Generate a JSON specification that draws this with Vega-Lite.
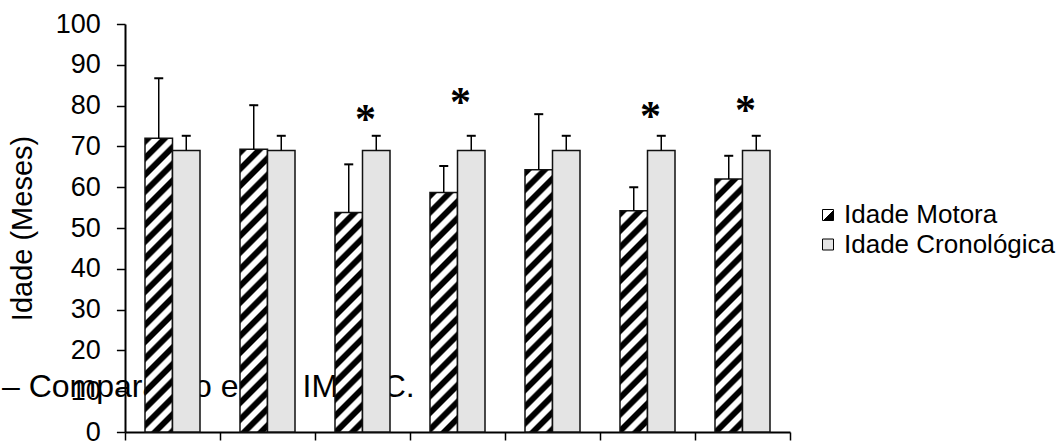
{
"$schema": "https://vega.github.io/schema/vega-lite/v6.json",
"width": 665,
"height": 408,
"autosize": {"type": "none"},
"padding": {"left": 125, "top": 24, "right": 272, "bottom": 15},
"background": "white",
"config": {
  "view": {"stroke": null},
  "font": "Liberation Sans",
  "axis": {"domainColor": "black", "domainWidth": 2, "tickColor": "black", "tickWidth": 1.5, "grid": false, "labelFont": "Liberation Sans", "labelColor": "black", "titleFont": "Liberation Sans", "titleColor": "black", "titleFontWeight": "normal"},
  "axisX": {"labels": false, "tickBand": "extent", "tickSize": 8},
  "axisY": {"labelFontSize": 27, "titleFontSize": 29, "tickSize": 8.6, "labelPadding": 16, "titlePadding": 18, "tickCount": 11}
},
"params": [{"name": "stops", "value": [
{"offset":0,"color":"#000"},{"offset":0.019,"color":"#000"},{"offset":0.025,"color":"#fff"},{"offset":0.044,"color":"#fff"},
{"offset":0.05,"color":"#000"},{"offset":0.069,"color":"#000"},{"offset":0.075,"color":"#fff"},{"offset":0.094,"color":"#fff"},
{"offset":0.1,"color":"#000"},{"offset":0.119,"color":"#000"},{"offset":0.125,"color":"#fff"},{"offset":0.144,"color":"#fff"},
{"offset":0.15,"color":"#000"},{"offset":0.169,"color":"#000"},{"offset":0.175,"color":"#fff"},{"offset":0.194,"color":"#fff"},
{"offset":0.2,"color":"#000"},{"offset":0.219,"color":"#000"},{"offset":0.225,"color":"#fff"},{"offset":0.244,"color":"#fff"},
{"offset":0.25,"color":"#000"},{"offset":0.269,"color":"#000"},{"offset":0.275,"color":"#fff"},{"offset":0.294,"color":"#fff"},
{"offset":0.3,"color":"#000"},{"offset":0.319,"color":"#000"},{"offset":0.325,"color":"#fff"},{"offset":0.344,"color":"#fff"},
{"offset":0.35,"color":"#000"},{"offset":0.369,"color":"#000"},{"offset":0.375,"color":"#fff"},{"offset":0.394,"color":"#fff"},
{"offset":0.4,"color":"#000"},{"offset":0.419,"color":"#000"},{"offset":0.425,"color":"#fff"},{"offset":0.444,"color":"#fff"},
{"offset":0.45,"color":"#000"},{"offset":0.469,"color":"#000"},{"offset":0.475,"color":"#fff"},{"offset":0.494,"color":"#fff"},
{"offset":0.5,"color":"#000"},{"offset":0.519,"color":"#000"},{"offset":0.525,"color":"#fff"},{"offset":0.544,"color":"#fff"},
{"offset":0.55,"color":"#000"},{"offset":0.569,"color":"#000"},{"offset":0.575,"color":"#fff"},{"offset":0.594,"color":"#fff"},
{"offset":0.6,"color":"#000"},{"offset":0.619,"color":"#000"},{"offset":0.625,"color":"#fff"},{"offset":0.644,"color":"#fff"},
{"offset":0.65,"color":"#000"},{"offset":0.669,"color":"#000"},{"offset":0.675,"color":"#fff"},{"offset":0.694,"color":"#fff"},
{"offset":0.7,"color":"#000"},{"offset":0.719,"color":"#000"},{"offset":0.725,"color":"#fff"},{"offset":0.744,"color":"#fff"},
{"offset":0.75,"color":"#000"},{"offset":0.769,"color":"#000"},{"offset":0.775,"color":"#fff"},{"offset":0.794,"color":"#fff"},
{"offset":0.8,"color":"#000"},{"offset":0.819,"color":"#000"},{"offset":0.825,"color":"#fff"},{"offset":0.844,"color":"#fff"},
{"offset":0.85,"color":"#000"},{"offset":0.869,"color":"#000"},{"offset":0.875,"color":"#fff"},{"offset":0.894,"color":"#fff"},
{"offset":0.9,"color":"#000"},{"offset":0.919,"color":"#000"},{"offset":0.925,"color":"#fff"},{"offset":0.944,"color":"#fff"},
{"offset":0.95,"color":"#000"},{"offset":0.969,"color":"#000"},{"offset":0.975,"color":"#fff"},{"offset":0.994,"color":"#fff"}
]}],
"datasets": {
  "barras": [
    {"grupo": "Motricidade Fina", "serie": "Idade Motora", "valor": 72.0, "sup": 86.7},
    {"grupo": "Motricidade Fina", "serie": "Idade Cronológica", "valor": 69.0, "sup": 72.6},
    {"grupo": "Motricidade Global", "serie": "Idade Motora", "valor": 69.3, "sup": 80.1},
    {"grupo": "Motricidade Global", "serie": "Idade Cronológica", "valor": 69.0, "sup": 72.6},
    {"grupo": "Equilíbrio", "serie": "Idade Motora", "valor": 53.8, "sup": 65.6},
    {"grupo": "Equilíbrio", "serie": "Idade Cronológica", "valor": 69.0, "sup": 72.6},
    {"grupo": "Esquema Corporal", "serie": "Idade Motora", "valor": 58.7, "sup": 65.2},
    {"grupo": "Esquema Corporal", "serie": "Idade Cronológica", "valor": 69.0, "sup": 72.6},
    {"grupo": "Organização Espacial", "serie": "Idade Motora", "valor": 64.3, "sup": 77.9},
    {"grupo": "Organização Espacial", "serie": "Idade Cronológica", "valor": 69.0, "sup": 72.6},
    {"grupo": "Organização Temporal", "serie": "Idade Motora", "valor": 54.2, "sup": 60.0},
    {"grupo": "Organização Temporal", "serie": "Idade Cronológica", "valor": 69.0, "sup": 72.6},
    {"grupo": "Idade Motora Geral", "serie": "Idade Motora", "valor": 62.0, "sup": 67.7},
    {"grupo": "Idade Motora Geral", "serie": "Idade Cronológica", "valor": 69.0, "sup": 72.6}
  ],
  "asteriscos": [
    {"grupo": "Equilíbrio", "y": 73.4, "sinal": "*"},
    {"grupo": "Esquema Corporal", "y": 77.5, "sinal": "*"},
    {"grupo": "Organização Temporal", "y": 74.0, "sinal": "*"},
    {"grupo": "Idade Motora Geral", "y": 75.5, "sinal": "*"}
  ],
  "legenda": [
    {"grupo": "Motricidade Fina", "y": 8.5, "texto": "– Comparação entre IM e IC."}
  ]
},
"layer": [
  {
    "data": {"name": "legenda"},
    "mark": {"type": "text", "align": "left", "baseline": "alphabetic", "dx": -123, "font": "Liberation Sans", "fontSize": 32, "color": "black"},
    "encoding": {
      "x": {"field": "grupo", "type": "nominal", "bandPosition": 0, "title": null, "scale": {"domain": ["Motricidade Fina", "Motricidade Global", "Equilíbrio", "Esquema Corporal", "Organização Espacial", "Organização Temporal", "Idade Motora Geral"], "paddingInner": 0, "paddingOuter": 0}},
      "y": {"field": "y", "type": "quantitative", "title": "Idade (Meses)", "scale": {"domain": [0, 100], "nice": false}},
      "text": {"field": "texto"}
    }
  },
  {
    "data": {"name": "barras"},
    "mark": {"type": "bar", "stroke": "#111", "strokeWidth": 1.5},
    "encoding": {
      "x": {"field": "grupo", "type": "nominal", "title": null, "scale": {"domain": ["Motricidade Fina", "Motricidade Global", "Equilíbrio", "Esquema Corporal", "Organização Espacial", "Organização Temporal", "Idade Motora Geral"], "paddingInner": 0, "paddingOuter": 0}},
      "xOffset": {"field": "serie", "type": "nominal", "scale": {"domain": ["Idade Motora", "Idade Cronológica"], "paddingInner": 0, "paddingOuter": 0.727}},
      "y": {"field": "valor", "type": "quantitative", "title": "Idade (Meses)", "scale": {"domain": [0, 100], "nice": false}},
      "fill": {
        "field": "serie", "type": "nominal",
        "scale": {"domain": ["Idade Motora", "Idade Cronológica"], "range": [{"expr": "{gradient:'linear',x1:0,y1:0,x2:1,y2:1,stops:[{offset:0,color:'#fff'},{offset:0.5,color:'#fff'},{offset:0.5,color:'#000'},{offset:1,color:'#000'}]}"}, "#e4e4e4"]},
        "legend": {"title": null, "orient": "none", "legendX": 690, "legendY": 178, "symbolType": "square", "symbolSize": 121, "symbolStrokeColor": "black", "symbolStrokeWidth": 1, "labelFontSize": 26, "labelFont": "Liberation Sans", "labelColor": "black", "labelLimit": 0, "rowPadding": 3.5, "labelOffset": 3},
        "condition": [
          {"test": "datum.serie==='Idade Motora'&&datum.grupo==='Motricidade Fina'", "value": {"expr": "{gradient:'linear',x1:0,y1:0,x2:0.1055,y2:1.1271,stops:stops}"}},
          {"test": "datum.serie==='Idade Motora'&&datum.grupo==='Motricidade Global'", "value": {"expr": "{gradient:'linear',x1:0,y1:0,x2:0.1138,y2:1.1702,stops:stops}"}},
          {"test": "datum.serie==='Idade Motora'&&datum.grupo==='Equilíbrio'", "value": {"expr": "{gradient:'linear',x1:0,y1:0,x2:0.1877,y2:1.4981,stops:stops}"}},
          {"test": "datum.serie==='Idade Motora'&&datum.grupo==='Esquema Corporal'", "value": {"expr": "{gradient:'linear',x1:0,y1:0,x2:0.1581,y2:1.3764,stops:stops}"}},
          {"test": "datum.serie==='Idade Motora'&&datum.grupo==='Organização Espacial'", "value": {"expr": "{gradient:'linear',x1:0,y1:0,x2:0.1320,y2:1.2593,stops:stops}"}},
          {"test": "datum.serie==='Idade Motora'&&datum.grupo==='Organização Temporal'", "value": {"expr": "{gradient:'linear',x1:0,y1:0,x2:0.1850,y2:1.4874,stops:stops}"}},
          {"test": "datum.serie==='Idade Motora'&&datum.grupo==='Idade Motora Geral'", "value": {"expr": "{gradient:'linear',x1:0,y1:0,x2:0.1419,y2:1.3050,stops:stops}"}}
        ]
      }
    }
  },
  {
    "data": {"name": "barras"},
    "mark": {"type": "rule", "color": "black", "strokeWidth": 1.5},
    "encoding": {
      "x": {"field": "grupo", "type": "nominal", "title": null},
      "xOffset": {"field": "serie", "type": "nominal"},
      "y": {"field": "valor", "type": "quantitative", "title": "Idade (Meses)"},
      "y2": {"field": "sup"}
    }
  },
  {
    "data": {"name": "barras"},
    "mark": {"type": "tick", "color": "black", "thickness": 2, "size": 9, "opacity": 1},
    "encoding": {
      "x": {"field": "grupo", "type": "nominal", "title": null},
      "xOffset": {"field": "serie", "type": "nominal"},
      "y": {"field": "sup", "type": "quantitative", "title": "Idade (Meses)"}
    }
  },
  {
    "data": {"name": "asteriscos"},
    "mark": {"type": "text", "font": "Liberation Serif", "fontWeight": "bold", "fontSize": 42, "baseline": "alphabetic", "align": "center", "dx": 3, "color": "black"},
    "encoding": {
      "x": {"field": "grupo", "type": "nominal", "title": null},
      "y": {"field": "y", "type": "quantitative", "title": "Idade (Meses)"},
      "text": {"field": "sinal"}
    }
  }
]
}
